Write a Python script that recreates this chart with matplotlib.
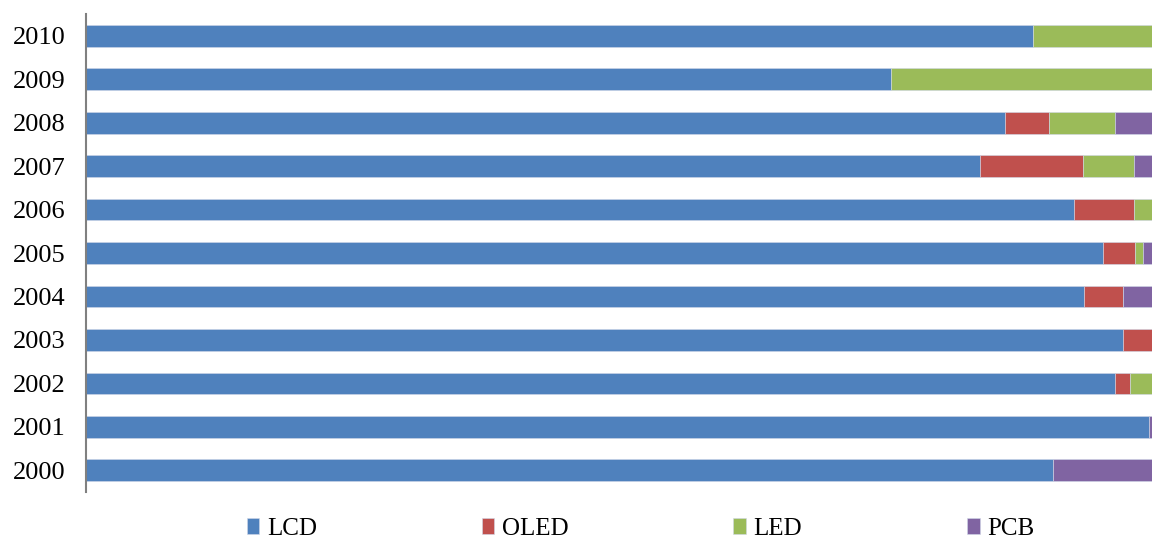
import matplotlib.pyplot as plt
import numpy as np

years = ['2000', '2001', '2002', '2003', '2004', '2005', '2006', '2007', '2008', '2009', '2010']
lcd = [90.7, 99.75, 96.5, 97.3, 93.6, 95.4, 92.7, 83.9, 86.2, 75.5, 88.8]
oled = [0, 0, 1.4, 2.7, 3.7, 3.0, 5.6, 9.6, 4.1, 0, 0]
led = [0, 0, 2.1, 0, 0, 0.8, 1.7, 4.8, 6.2, 24.5, 11.2]
pcb = [9.3, 0.25, 0, 0, 2.7, 0.8, 0, 1.7, 3.5, 0, 0]

series = [('LCD', lcd, '#4F81BD'), ('OLED', oled, '#C0504D'),
          ('LED', led, '#9BBB59'), ('PCB', pcb, '#8064A2')]

plt.rcParams['font.family'] = ['Liberation Serif', 'DejaVu Serif']

fig = plt.figure(figsize=(11.52, 5.41), dpi=100)
ax = fig.add_axes([86 / 1152, 49 / 541, 1 - 86 / 1152, 478 / 541])

y = np.arange(len(years))
left = np.zeros(len(years))
for name, vals, color in series:
    vals = np.array(vals)
    ax.barh(y, vals, left=left, height=0.5, color=color, label=name,
            edgecolor='#d0d8e8', linewidth=0.4)
    left += vals

ax.set_xlim(0, 100)
ax.set_ylim(-0.5, len(years) - 0.5)
ax.set_yticks(y)
ax.set_yticklabels(years, fontsize=19)
ax.tick_params(axis='y', length=0, pad=15)
ax.set_xticks([])
for s in ['top', 'right', 'bottom']:
    ax.spines[s].set_visible(False)
ax.spines['left'].set_color('#808080')
ax.spines['left'].set_linewidth(1.5)

fig.legend(loc='center', bbox_to_anchor=(0.556, 0.022), ncol=4,
           frameon=False, fontsize=18, handlelength=0.5, handleheight=0.6,
           handletextpad=0.3, columnspacing=6.6, borderaxespad=0, borderpad=0)

plt.savefig('out.png', dpi=100)
